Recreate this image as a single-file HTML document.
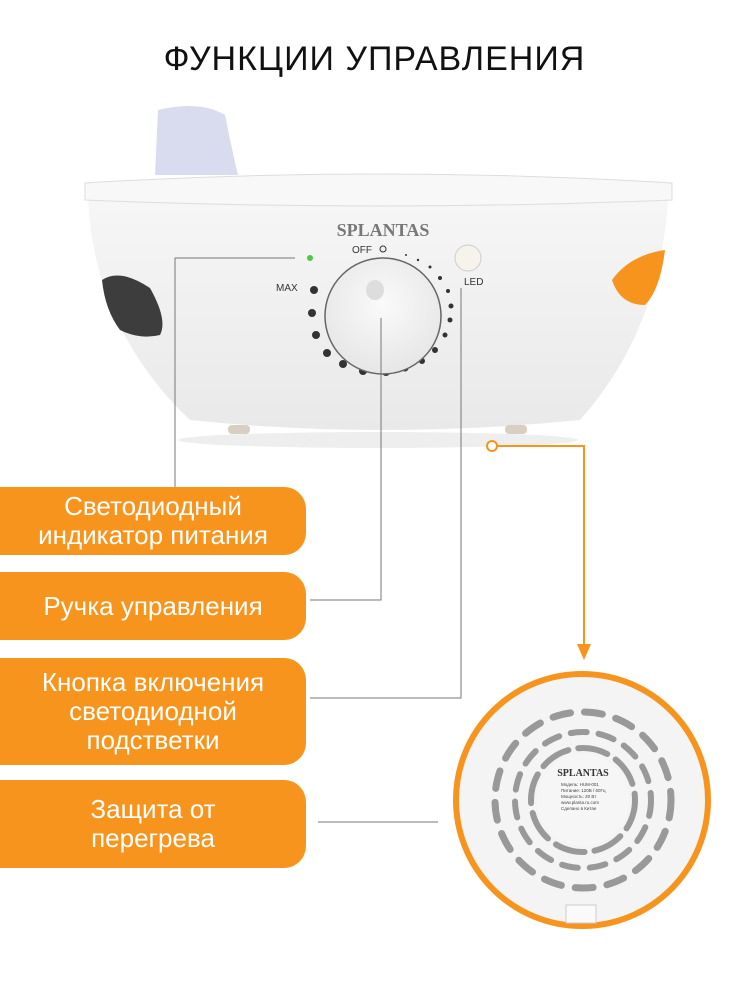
<!DOCTYPE html>
<html><head><meta charset="utf-8"><style>
html,body{margin:0;padding:0;background:#fff;}
body{width:749px;height:1000px;position:relative;overflow:hidden;font-family:"Liberation Sans","DejaVu Sans",sans-serif;}
.title{position:absolute;top:40px;left:0;width:749px;text-align:center;font-size:34px;letter-spacing:1px;color:#111;font-weight:300;}
.btn{position:absolute;left:0;width:306px;background:#f7941d;border-radius:0 22px 22px 0;color:#fff;text-align:center;font-size:26px;line-height:29px;display:flex;align-items:center;justify-content:center;}
</style></head><body>
<div class="title">ФУНКЦИИ УПРАВЛЕНИЯ</div>
<svg width="749" height="1000" style="position:absolute;left:0;top:0">
<defs>
<radialGradient id="kg" cx="0.5" cy="0.4" r="0.6"><stop offset="0" stop-color="#fafafa"/><stop offset="1" stop-color="#e6e6e6"/></radialGradient>
<linearGradient id="bg" x1="0" y1="0" x2="0" y2="1"><stop offset="0" stop-color="#f6f6f6"/><stop offset="1" stop-color="#e9e9e9"/></linearGradient>
</defs>
<!-- tank -->
<path d="M155 175 L158 110 Q200 100 225 115 Q232 150 238 175 Z" fill="#d9dcef"/>
<!-- body -->
<path d="M88 200 Q95 330 190 420 Q380 440 580 420 Q660 330 668 200 Z" fill="url(#bg)"/>
<ellipse cx="378" cy="440" rx="200" ry="8" fill="#eee"/>
<rect x="228" y="425" width="22" height="9" rx="4" fill="#d8cfc2"/>
<rect x="505" y="425" width="22" height="9" rx="4" fill="#d8cfc2"/>
<path d="M85 183 Q378 165 672 183 L672 200 Q378 212 85 200 Z" fill="#f8f8f8" stroke="#ddd"/>
<!-- spots -->
<path d="M102 280 Q120 268 150 288 Q168 320 160 335 Q140 340 120 330 Q105 310 102 280Z" fill="#3d3d3d"/>
<path d="M612 280 Q630 255 665 250 Q660 290 645 305 Q620 305 612 280Z" fill="#f7941d"/>
<!-- logo -->
<text x="383" y="236" font-family="Liberation Serif,serif" font-weight="bold" font-size="18" fill="#777" text-anchor="middle">SPLANTAS</text>
<text x="352" y="253" font-size="10" fill="#333">OFF</text><circle cx="383" cy="249" r="3" fill="none" stroke="#333"/>
<text x="276" y="291" font-size="10" fill="#333">MAX</text>
<text x="464" y="285" font-size="10" fill="#333">LED</text>
<circle cx="310" cy="258" r="3" fill="#4c4"/>
<circle cx="468" cy="258" r="13" fill="#f6f3ea" stroke="#ccc"/>
<!-- dots -->
<g fill="#333">
<circle cx="314" cy="290" r="4"/><circle cx="312" cy="313" r="4"/><circle cx="316" cy="335" r="4"/><circle cx="327" cy="353" r="4"/><circle cx="343" cy="364" r="4"/><circle cx="363" cy="371" r="4"/><circle cx="386" cy="372" r="4"/><circle cx="405" cy="368" r="3.5"/><circle cx="422" cy="361" r="3"/><circle cx="435" cy="350" r="3"/><circle cx="445" cy="335" r="2.5"/><circle cx="450" cy="320" r="2.5"/><circle cx="451" cy="306" r="2.5"/><circle cx="448" cy="291" r="2"/><circle cx="440" cy="278" r="2"/><circle cx="430" cy="267" r="1.5"/><circle cx="418" cy="260" r="1.2"/><circle cx="406" cy="255" r="1"/>
</g>
<circle cx="383" cy="316" r="58" fill="url(#kg)" stroke="#666" stroke-width="1.5"/>
<ellipse cx="375" cy="290" rx="9" ry="10" fill="#ddd"/>
<!-- lines -->
<g stroke="#777" stroke-width="1" fill="none">
<path d="M295 258 H175 V487"/>
<path d="M381 318 V600 H310"/>
<path d="M461 288 V698 H310"/>
<path d="M318 822 H438"/>
</g>
<path d="M492 446 H584 V648" stroke="#f7941d" stroke-width="2" fill="none"/>
<circle cx="492" cy="446" r="5" fill="#fff" stroke="#f7941d" stroke-width="2"/>
<path d="M577 644 L584 660 L591 644 Z" fill="#f7941d"/>
<!-- bottom circle -->
<circle cx="582" cy="800" r="126" fill="#f4f4f4" stroke="#f7941d" stroke-width="6"/>
<g fill="none" stroke="#999" stroke-width="7" stroke-linecap="round">
<circle cx="583" cy="800" r="88" stroke-dasharray="18 14"/>
<circle cx="583" cy="800" r="68" stroke-dasharray="16 12" stroke-width="6"/>
<circle cx="583" cy="800" r="52" stroke-dasharray="30 10" stroke-width="6"/>
</g>
<circle cx="583" cy="800" r="46" fill="#f6f6f6"/>
<text x="583" y="776" font-family="Liberation Serif,serif" font-weight="bold" font-size="10" fill="#333" text-anchor="middle">SPLANTAS</text>
<g font-size="4.5" fill="#444"><text x="561" y="786">Модель: HUM-001</text><text x="561" y="792">Питание: 120В / 60Гц</text><text x="561" y="798">Мощность: 20 Вт</text><text x="561" y="804">www.planta.ru.com</text><text x="561" y="810">Сделано в Китае</text></g>
<rect x="566" y="905" width="30" height="18" fill="#fafafa" stroke="#ccc"/>
</svg>
<div class="btn" style="top:487px;height:68px">Светодиодный<br>индикатор питания</div>
<div class="btn" style="top:572px;height:68px">Ручка управления</div>
<div class="btn" style="top:658px;height:107px">Кнопка включения<br>светодиодной<br>подстветки</div>
<div class="btn" style="top:780px;height:88px">Защита от<br>перегрева</div>
</body></html>
